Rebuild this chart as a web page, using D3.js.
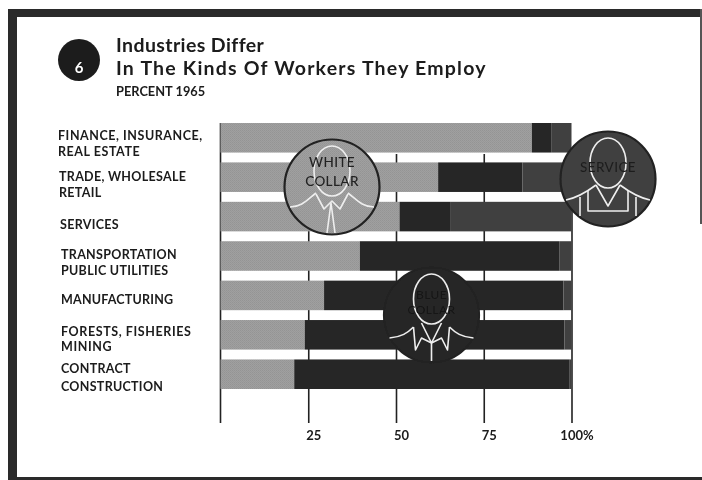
<!DOCTYPE html>
<html><head><meta charset="utf-8">
<script src="https://cdn.jsdelivr.net/npm/d3@7"></script>
<style>
html,body{margin:0;padding:0;background:#fff}
svg{display:block}
text{font-family:Lato,"Open Sans",sans-serif;fill:#1a1a1a}
</style></head><body>
<script>
const categories = ["Finance","Trade","Services","Transportation","Manufacturing","Forests","Construction"];
const categoryLabels = [
  ["FINANCE, INSURANCE,","REAL ESTATE"],
  ["TRADE, WHOLESALE","RETAIL"],
  ["SERVICES"],
  ["TRANSPORTATION","PUBLIC UTILITIES"],
  ["MANUFACTURING"],
  ["FORESTS, FISHERIES","MINING"],
  ["CONTRACT","CONSTRUCTION"]
];
const whiteCollar = [88.7, 62, 51, 39.7, 29.5, 24, 21];
const blueCollar  = [5.5, 24, 14.4, 56.8, 68.2, 74, 78.5];
const service     = [5.8, 14, 34.6, 3.5, 2.3, 2, 0.5];
const tickValues = [25, 50, 75, 100];
const tickLabels = ["25","50","75","100%"];
const titleLines = ["Industries Differ","In The Kinds Of Workers They Employ"];
const subtitle = "PERCENT 1965";
const chartNumber = "6";

const W = 702, H = 480;
const svg = d3.select("body").append("svg").attr("width",W).attr("height",H);
const defs = svg.append("defs");
const soft = defs.append("filter").attr("id","soft").attr("x",0).attr("y",0).attr("width","100%").attr("height","100%");
soft.append("feGaussianBlur").attr("stdDeviation",0.45);
const pat = defs.append("pattern").attr("id","halftone").attr("width",2).attr("height",2).attr("patternUnits","userSpaceOnUse");
pat.append("rect").attr("width",2).attr("height",2).attr("fill","#a0a0a0");
pat.append("rect").attr("width",1).attr("height",1).attr("fill","#949494");
pat.append("rect").attr("x",1).attr("y",1).attr("width",1).attr("height",1).attr("fill","#989898");

const root = svg.append("g").attr("filter","url(#soft)");
root.append("rect").attr("width",W).attr("height",H).attr("fill","#fff");

// Frame
const frameColor = "#2b2b2b";
root.append("rect").attr("x",8).attr("y",9).attr("width",W-8).attr("height",8).attr("fill",frameColor);
root.append("rect").attr("x",8).attr("y",9).attr("width",9).attr("height",H-9).attr("fill",frameColor);
root.append("rect").attr("x",8).attr("y",477).attr("width",W-8).attr("height",3).attr("fill",frameColor);
root.append("rect").attr("x",700).attr("y",9).attr("width",2).attr("height",215).attr("fill","#555");

// Header
root.append("circle").attr("cx",79).attr("cy",60).attr("r",21).attr("fill","#1d1d1d");
root.append("text").attr("x",79).attr("y",72.5).attr("text-anchor","middle").attr("font-size",15).attr("font-weight",700).style("fill","#fff").text(chartNumber);
root.append("text").attr("x",116).attr("y",52).attr("font-size",19.5).attr("font-weight",700).attr("letter-spacing",0.4).text(titleLines[0]);
root.append("text").attr("x",116).attr("y",75).attr("font-size",19.5).attr("font-weight",700).attr("letter-spacing",1.2).text(titleLines[1]);
root.append("text").attr("x",116).attr("y",96).attr("font-size",12.8).attr("font-weight",700).text(subtitle);

// Scales
const x = d3.scaleLinear().domain([0,100]).range([220.5,571.5]);
const y = d3.scaleBand().domain(categories).range([123,389]).paddingInner(0.25);

// Axis lines
const axis = d3.axisBottom(x).tickValues(tickValues).tickSize(269).tickFormat((d,i)=>tickLabels[i]);
const gAxis = root.append("g").attr("transform","translate(0,154)").call(axis);
gAxis.select(".domain").remove();
gAxis.selectAll("line").attr("stroke","#222").attr("stroke-width",1.6);
gAxis.selectAll("text").attr("dx",5).attr("y",286).attr("dy",0).attr("font-size",13).attr("font-weight",700).style("font-family","Lato,sans-serif");
root.append("line").attr("x1",x(0)).attr("x2",x(0)).attr("y1",123).attr("y2",423).attr("stroke","#222").attr("stroke-width",1.6);

// Bars
const seriesList = [
  {name:"White collar", values:whiteCollar, fill:"url(#halftone)"},
  {name:"Blue collar", values:blueCollar, fill:"#282828"},
  {name:"Service", values:service, fill:"#404040"}
];
const stackData = categories.map((c,i)=>({category:c, "White collar":whiteCollar[i], "Blue collar":blueCollar[i], "Service":service[i]}));
const stacked = d3.stack().keys(seriesList.map(s=>s.name))(stackData);
root.selectAll("g.series").data(stacked).join("g").attr("class","series")
  .attr("fill",(d,i)=>seriesList[i].fill)
  .selectAll("rect").data(d=>d).join("rect")
  .attr("x",d=>x(d[0])).attr("width",d=>x(d[1])-x(d[0]))
  .attr("y",d=>y(d.data.category)).attr("height",y.bandwidth());

// Category labels
const labelBaselines = [140,181,229,259,304,336,373];
const labelLead = [15.5,16,0,15.5,0,14.5,17.5];
const labelX = [58,59,60,61,61,61,61];
const labelSpacing = [0.55,0.3,0.3,0.3,0.2,0.6,0.3];
const gLab = root.append("g");
categoryLabels.forEach((lines,i)=>{
  lines.forEach((t,j)=>{
    gLab.append("text").attr("x",labelX[i]).attr("y",labelBaselines[i]+j*labelLead[i])
      .attr("font-size",12.5).attr("font-weight",700).attr("letter-spacing",labelSpacing[i]).text(t);
  });
});

// Figure medallions
function medallion(cx,cy,fill,textFill,lines,kind,ty,lead,fs){
  const g = root.append("g").attr("transform",`translate(${cx},${cy})`);
  g.append("circle").attr("r",47.5).attr("fill",fill).attr("stroke","#222").attr("stroke-width",2.2);
  const s = g.append("g").attr("fill","none").attr("stroke","#eee").attr("stroke-width",1.6).attr("stroke-linejoin","round");
  s.append("ellipse").attr("cx",0).attr("cy",-16).attr("rx",18).attr("ry",25);
  if(kind==="service"){
    s.append("path").attr("d","M-42,21 Q-28,18 -12,6");
    s.append("path").attr("d","M42,21 Q28,18 12,6");
    s.append("path").attr("d","M-20,11 V32 H20 V11");
    s.append("path").attr("d","M-12,6 L0,27 L12,6");
    s.append("path").attr("d","M-28,18 V37 M28,18 V37");
  } else if(kind==="white"){
    s.append("path").attr("d","M-42,20 C-30,20 -24,12 -16,6");
    s.append("path").attr("d","M42,20 C30,20 24,12 16,6");
    s.append("path").attr("d","M-16,7 L-8,22 L0,14 L8,22 L16,7");
    s.append("path").attr("d","M-5,46 L-1,16 L3,46");
  } else {
    s.append("path").attr("d","M-42,23 C-30,22 -24,18 -18,12");
    s.append("path").attr("d","M42,23 C30,22 24,18 18,12");
    s.append("path").attr("d","M-18,12 L-16,35 L-10,23 L0,28 L10,23 L16,35 L18,12");
    s.append("path").attr("d","M-10,8 L0,28 L10,8 M0,28 V46");
  }
  lines.forEach((t,i)=>g.append("text").attr("x",0).attr("y",ty+i*lead).attr("text-anchor","middle")
    .attr("font-size",fs).attr("font-weight",500).attr("letter-spacing",0.4).style("fill",textFill).text(t));
}
medallion(332,187,"url(#halftone)","#222",["WHITE","COLLAR"],"white",-20,19,13.5);
medallion(608,179,"#404040","#1f1f1f",["SERVICE"],"service",-7,0,13.5);
medallion(431.5,315,"#282828","#161616",["BLUE","COLLAR"],"blue",-16,15,12);
</script>
</body></html>
